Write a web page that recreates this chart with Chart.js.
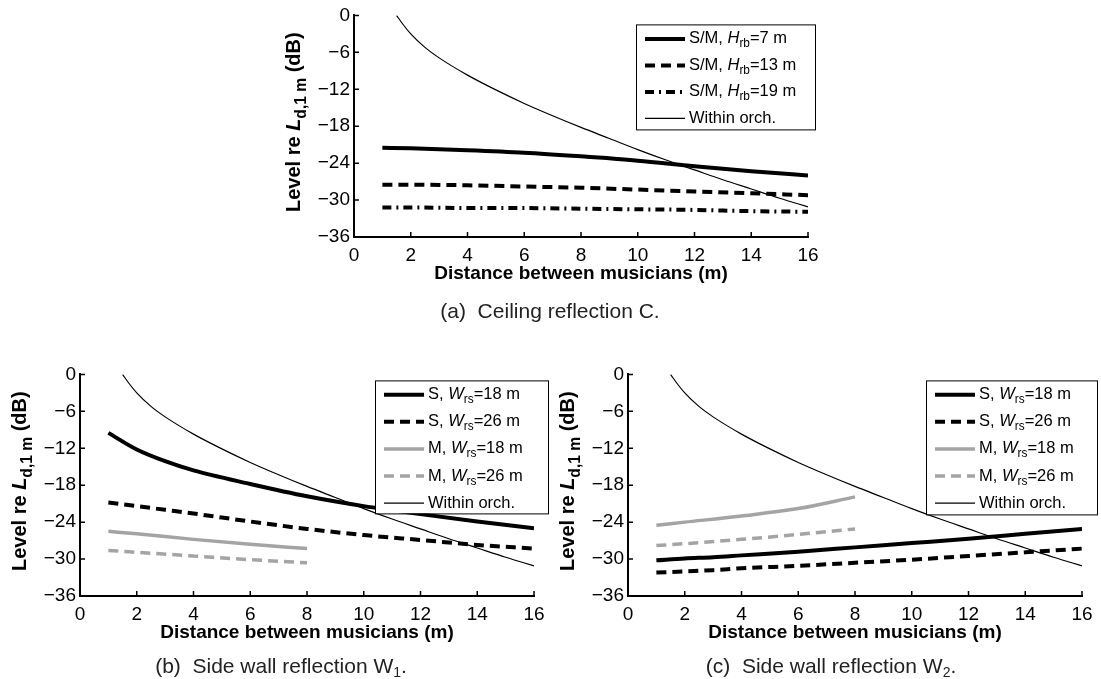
<!DOCTYPE html>
<html>
<head>
<meta charset="utf-8">
<script src="https://cdn.jsdelivr.net/npm/chart.js@4.4.0/dist/chart.umd.min.js"></script>
<style>
  body { margin: 0; width: 1101px; height: 679px; background: #fff; position: relative; overflow: hidden; font-family: "Liberation Sans", Arial, sans-serif; }
  .box { position: absolute; width: 560px; height: 300px; }
  .cap { position: absolute; font-size: 21px; color: #222; white-space: nowrap; transform: translate(-50%, -50%); }
  .cap sub { font-size: 14px; vertical-align: -4px; line-height: 0; }
</style>
</head>
<body>
<div class="box" style="left:274px; top:0px;"><canvas id="chartA" width="560" height="300"></canvas></div>
<div class="box" style="left:0px; top:359px;"><canvas id="chartB" width="560" height="300"></canvas></div>
<div class="box" style="left:548px; top:359px;"><canvas id="chartC" width="560" height="300"></canvas></div>
<div class="cap" style="left:550px; top:311px;">(a)&nbsp;&nbsp;Ceiling reflection C.</div>
<div class="cap" style="left:281px; top:666px;">(b)&nbsp;&nbsp;Side wall reflection W<sub>1</sub>.</div>
<div class="cap" style="left:831px; top:666px;">(c)&nbsp;&nbsp;Side wall reflection W<sub>2</sub>.</div>

<script>
// valores
const xTicks = [0, 2, 4, 6, 8, 10, 12, 14, 16];
const yTicks = [0, -6, -12, -18, -24, -30, -36];

// dentro de la orquesta (igual en los tres)
const distOrch = [1.5, 1.75, 2, 2.5, 3, 4, 5, 6, 7, 8, 9, 10, 11, 12, 13, 14, 15, 16];
const levelOrch = [0, -1.6, -3.0, -5.2, -6.9, -9.7, -12.1, -14.3, -16.3, -18.2, -20.0, -21.8, -23.5, -25.1, -26.7, -28.2, -29.7, -31.1];

// (a) techo
const distCeil = [1, 2, 4, 6, 8, 10, 12, 14, 16];
const ceilH7 = [-21.5, -21.6, -21.9, -22.3, -22.9, -23.6, -24.5, -25.3, -26.0];
const ceilH13 = [-27.5, -27.5, -27.6, -27.8, -28.0, -28.3, -28.6, -28.9, -29.2];
const ceilH19 = [-31.2, -31.2, -31.3, -31.3, -31.4, -31.5, -31.6, -31.8, -31.9];

// (b) y (c) paredes laterales
const distWallS = [1, 2, 3, 4, 6, 8, 10, 12, 14, 16];
const distWallM = [1, 2, 4, 6, 8];
const w1S18 = [-9.5, -12.2, -14.1, -15.6, -17.8, -19.8, -21.4, -22.7, -23.9, -25.0];
const w1S26 = [-20.8, -21.4, -22.0, -22.6, -23.9, -25.1, -26.1, -26.9, -27.7, -28.3];
const w1M18 = [-25.5, -25.9, -26.8, -27.6, -28.3];
const w1M26 = [-28.6, -28.9, -29.5, -30.1, -30.6];
const w2S18 = [-30.2, -29.9, -29.7, -29.4, -28.8, -28.1, -27.4, -26.7, -25.9, -25.1];
const w2S26 = [-32.2, -32.0, -31.8, -31.5, -31.1, -30.6, -30.1, -29.5, -28.9, -28.3];
const w2M18 = [-24.5, -24.0, -23.0, -21.8, -19.9];
const w2M26 = [-27.8, -27.5, -26.8, -26.0, -25.1];

// textos de leyenda: [texto, tipo]  i = cursiva, s = subindice
const lblH7 = [['S/M, '], ['H', 'i'], ['rb', 's'], ['=7 m']];
const lblH13 = [['S/M, '], ['H', 'i'], ['rb', 's'], ['=13 m']];
const lblH19 = [['S/M, '], ['H', 'i'], ['rb', 's'], ['=19 m']];
const lblS18 = [['S, '], ['W', 'i'], ['rs', 's'], ['=18 m']];
const lblS26 = [['S, '], ['W', 'i'], ['rs', 's'], ['=26 m']];
const lblM18 = [['M, '], ['W', 'i'], ['rs', 's'], ['=18 m']];
const lblM26 = [['M, '], ['W', 'i'], ['rs', 's'], ['=26 m']];
const lblOrch = [['Within orch.']];
const yTitle = [['Level re '], ['L', 'i'], ['d,1 m', 's'], [' (dB)']];
const xTitle = 'Distance between musicians (m)';

const FONT = '"Liberation Sans", Arial, sans-serif';
const GREY = '#a4a4a4';

function pts(xs, ys) {
    return xs.map((x, i) => ({ x: x, y: ys[i] }));
}

function richWidth(ctx, parts, size, bold, subScale) {
    let w = 0;
    for (const p of parts) {
        const fs = p[1] === 's' ? size * subScale : size;
        ctx.font = (p[1] === 'i' ? 'italic ' : '') + (bold ? 'bold ' : '') + fs + 'px ' + FONT;
        w += ctx.measureText(p[0]).width;
    }
    return w;
}

function drawRich(ctx, parts, x, y, size, bold, subScale) {
    let cx = x;
    for (const p of parts) {
        const fs = p[1] === 's' ? size * subScale : size;
        ctx.font = (p[1] === 'i' ? 'italic ' : '') + (bold ? 'bold ' : '') + fs + 'px ' + FONT;
        ctx.fillText(p[0], cx, y + (p[1] === 's' ? size * 0.32 : 0));
        cx += ctx.measureText(p[0]).width;
    }
}

// marcas hacia dentro, titulo del eje y, leyenda con subindices
const decor = {
    id: 'decor',
    afterDraw(chart, args, opts) {
        const ctx = chart.ctx;
        const a = chart.chartArea;
        const sx = chart.scales.x, sy = chart.scales.y;
        ctx.save();
        ctx.strokeStyle = '#000';
        ctx.lineWidth = 1.5;
        ctx.beginPath();
        xTicks.forEach(v => { const px = sx.getPixelForValue(v); ctx.moveTo(px, a.bottom); ctx.lineTo(px, a.bottom - 5); });
        yTicks.forEach(v => { const py = sy.getPixelForValue(v); ctx.moveTo(a.left, py); ctx.lineTo(a.left + 5, py); });
        ctx.stroke();

        // titulo y
        ctx.fillStyle = '#000';
        ctx.textBaseline = 'alphabetic';
        ctx.textAlign = 'left';
        const tw = richWidth(ctx, yTitle, 20, true, 0.78);
        ctx.save();
        ctx.translate(a.left - 54, (a.top + a.bottom) / 2 - 4);
        ctx.rotate(-Math.PI / 2);
        drawRich(ctx, yTitle, -tw / 2, 0, 20, true, 0.78);
        ctx.restore();

        // leyenda
        const L = opts.legend;
        const bx = a.right + L.left, by = a.top + L.top;
        ctx.fillStyle = '#fff';
        ctx.fillRect(bx, by, L.width, L.height);
        ctx.lineWidth = 1;
        ctx.strokeStyle = '#000';
        ctx.strokeRect(bx + 0.5, by + 0.5, L.width, L.height);
        chart.data.datasets.forEach((ds, i) => {
            const ry = by + L.first + i * L.step;
            ctx.beginPath();
            ctx.setLineDash(ds.borderDash || []);
            ctx.lineCap = 'butt';
            ctx.strokeStyle = ds.borderColor;
            ctx.lineWidth = ds.borderWidth;
            ctx.moveTo(bx + 9, ry);
            ctx.lineTo(bx + 49, ry);
            ctx.stroke();
            ctx.setLineDash([]);
            ctx.fillStyle = '#000';
            ctx.textBaseline = 'middle';
            drawRich(ctx, opts.labels[i], bx + 53, ry, 16.5, false, 0.72);
        });
        ctx.restore();
    }
};

function makeChart(id, datasets, labels, legend) {
    return new Chart(document.getElementById(id), {
        type: 'line',
        data: { datasets: datasets },
        options: {
            responsive: false,
            animation: false,
            layout: { padding: { left: 0, top: 14, right: 26, bottom: 0 } },
            elements: { point: { radius: 0 }, line: { tension: 0.4, cubicInterpolationMode: 'monotone', borderCapStyle: 'butt' } },
            plugins: {
                legend: { display: false },
                tooltip: { enabled: false },
                decor: { labels: labels, legend: legend }
            },
            scales: {
                x: {
                    type: 'linear',
                    min: 0, max: 16,
                    afterFit: s => { s.height = 63; },
                    afterBuildTicks: s => { s.ticks = xTicks.map(v => ({ value: v })); },
                    grid: { drawOnChartArea: false, drawTicks: false },
                    border: { display: true, color: '#000', width: 2 },
                    ticks: { color: '#000', padding: 7, font: { size: 19, family: FONT }, maxRotation: 0 },
                    title: { display: true, text: xTitle, color: '#000', font: { size: 19, weight: 'bold', family: FONT }, padding: { top: 0, bottom: 15 } }
                },
                y: {
                    min: -36, max: 0,
                    afterFit: s => { s.width = 80; },
                    afterBuildTicks: s => { s.ticks = yTicks.map(v => ({ value: v })); },
                    grid: { drawOnChartArea: false, drawTicks: false },
                    border: { display: true, color: '#000', width: 2 },
                    ticks: {
                        color: '#000', padding: 4, font: { size: 19, family: FONT },
                        callback: v => (v < 0 ? '\u2212' + Math.abs(v) : '' + v)
                    }
                }
            }
        },
        plugins: [decor]
    });
}

function solid(label, xs, ys, color, w) {
    return { label: label, data: pts(xs, ys), borderColor: color, borderWidth: w, fill: false };
}
function dashed(label, xs, ys, color, w, dash) {
    return { label: label, data: pts(xs, ys), borderColor: color, borderWidth: w, borderDash: dash, fill: false };
}

makeChart('chartA', [
    solid('S/M, Hrb=7 m', distCeil, ceilH7, '#000', 4),
    dashed('S/M, Hrb=13 m', distCeil, ceilH13, '#000', 4, [10, 6]),
    dashed('S/M, Hrb=19 m', distCeil, ceilH19, '#000', 4, [9, 5, 2, 5]),
    solid('Within orch.', distOrch, levelOrch, '#000', 1.2)
], [lblH7, lblH13, lblH19, lblOrch], { left: -172, top: 9, width: 179, height: 105, first: 14.5, step: 26.5 });

makeChart('chartB', [
    solid('S, Wrs=18 m', distWallS, w1S18, '#000', 4),
    dashed('S, Wrs=26 m', distWallS, w1S26, '#000', 4, [10, 6]),
    solid('M, Wrs=18 m', distWallM, w1M18, GREY, 3.5),
    dashed('M, Wrs=26 m', distWallM, w1M26, GREY, 3.5, [10, 6]),
    solid('Within orch.', distOrch, levelOrch, '#000', 1.2)
], [lblS18, lblS26, lblM18, lblM26, lblOrch], { left: -159, top: 6, width: 173, height: 133, first: 14.3, step: 27.1 });

makeChart('chartC', [
    solid('S, Wrs=18 m', distWallS, w2S18, '#000', 4),
    dashed('S, Wrs=26 m', distWallS, w2S26, '#000', 4, [10, 6]),
    solid('M, Wrs=18 m', distWallM, w2M18, GREY, 3.5),
    dashed('M, Wrs=26 m', distWallM, w2M26, GREY, 3.5, [10, 6]),
    solid('Within orch.', distOrch, levelOrch, '#000', 1.2)
], [lblS18, lblS26, lblM18, lblM26, lblOrch], { left: -156, top: 6, width: 171, height: 134, first: 14.3, step: 27.1 });
</script>
</body>
</html>
